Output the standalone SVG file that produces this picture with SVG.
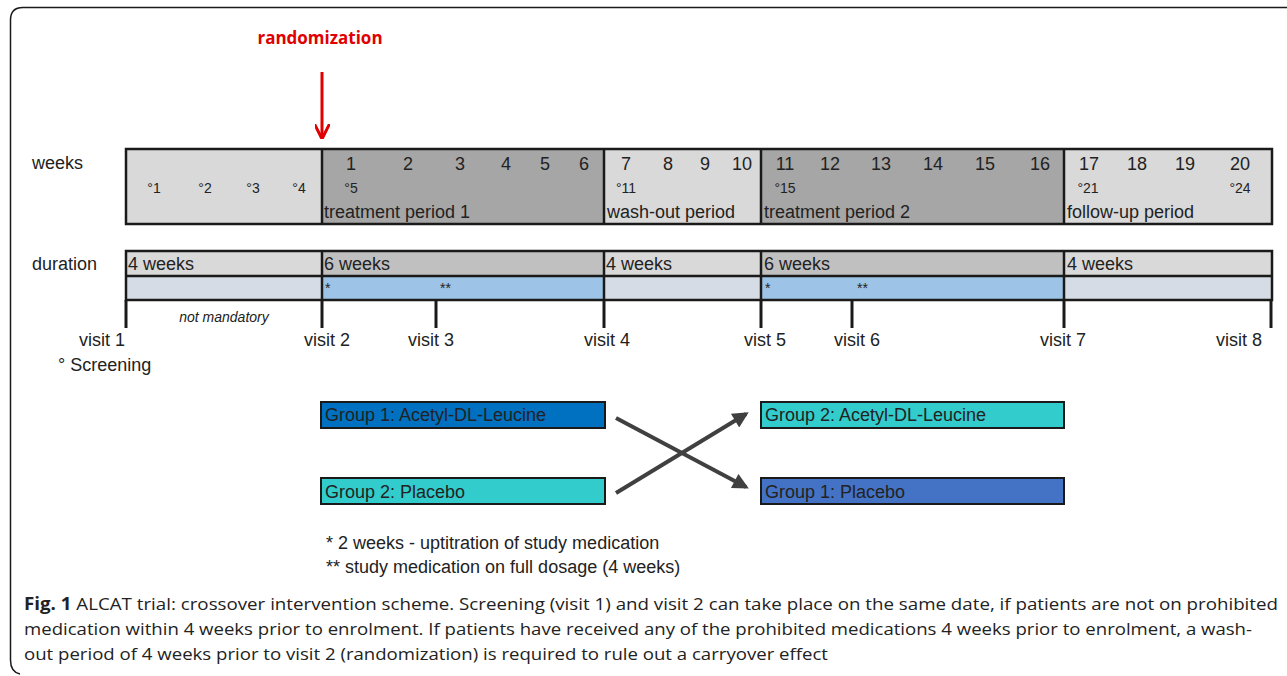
<svg xmlns="http://www.w3.org/2000/svg" width="1287" height="676" viewBox="0 0 1287 676">
<style>
text{font-family:"Liberation Sans",Arial,sans-serif;fill:#222}
.lbl{font-size:18px}
.deg{font-size:14px}
.ast{font-size:14px}
.cap{font-family:"Open Sans","Liberation Sans",sans-serif;font-size:17px;fill:#222}
.box{stroke:#1a1a1a;stroke-width:2}
.bar{stroke:#1a1a1a;stroke-width:2.5}
.tick{stroke:#1a1a1a;stroke-width:3}
.xarr{stroke:#404040;stroke-width:4;fill:none}
</style>
<defs>
<marker id="ah" viewBox="0 0 10 10" refX="8" refY="5" markerWidth="4.5" markerHeight="4" orient="auto" markerUnits="strokeWidth">
<path d="M0,0 L10,5 L0,10 z" fill="#404040"/>
</marker>
<marker id="rah" viewBox="0 0 10 10" refX="8" refY="5" markerWidth="5" markerHeight="5" orient="auto" markerUnits="strokeWidth">
<path d="M0,0 L10,5 L0,10" fill="none" stroke="#e00000" stroke-width="2"/>
</marker>
</defs>
<rect width="1287" height="676" fill="#fff"/>
<path d="M1287,7.5 H23 Q10.5,7.5 10.5,20 V660 Q10.5,672 20,674" fill="none" stroke="#1a1a1a" stroke-width="1.5"/>

<g id="randomization">
<text x="320" y="44" text-anchor="middle" style="font-family:'Open Sans','Liberation Sans',sans-serif;font-weight:bold;font-size:17px;fill:#e00000">randomization</text>
<line x1="322" y1="72" x2="322" y2="136" stroke="#e00000" stroke-width="3" marker-end="url(#rah)"/>
</g>

<g id="weeks-bar">
<text class="lbl" x="32" y="169">weeks</text>
<rect x="126" y="149" width="196" height="75" fill="#d9d9d9"/>
<rect x="322" y="149" width="282" height="75" fill="#a6a6a6"/>
<rect x="604" y="149" width="157" height="75" fill="#d9d9d9"/>
<rect x="761" y="149" width="303" height="75" fill="#a6a6a6"/>
<rect x="1064" y="149" width="208" height="75" fill="#d9d9d9"/>
<rect x="126" y="149" width="1146" height="75" fill="none" class="bar"/>
<line class="bar" x1="322" y1="149" x2="322" y2="224"/>
<line class="bar" x1="604" y1="149" x2="604" y2="224"/>
<line class="bar" x1="761" y1="149" x2="761" y2="224"/>
<line class="bar" x1="1064" y1="149" x2="1064" y2="224"/>
<g text-anchor="middle">
<text class="lbl" x="351" y="170">1</text>
<text class="lbl" x="408" y="170">2</text>
<text class="lbl" x="460" y="170">3</text>
<text class="lbl" x="506" y="170">4</text>
<text class="lbl" x="545" y="170">5</text>
<text class="lbl" x="584" y="170">6</text>
<text class="lbl" x="626" y="170">7</text>
<text class="lbl" x="668" y="170">8</text>
<text class="lbl" x="705" y="170">9</text>
<text class="lbl" x="742" y="170">10</text>
<text class="lbl" x="785" y="170">11</text>
<text class="lbl" x="830" y="170">12</text>
<text class="lbl" x="881" y="170">13</text>
<text class="lbl" x="933" y="170">14</text>
<text class="lbl" x="985" y="170">15</text>
<text class="lbl" x="1040" y="170">16</text>
<text class="lbl" x="1089" y="170">17</text>
<text class="lbl" x="1137" y="170">18</text>
<text class="lbl" x="1185" y="170">19</text>
<text class="lbl" x="1240" y="170">20</text>
</g>
<g text-anchor="middle">
<text class="deg" x="154" y="193">°1</text>
<text class="deg" x="205" y="193">°2</text>
<text class="deg" x="253" y="193">°3</text>
<text class="deg" x="299" y="193">°4</text>
<text class="deg" x="351" y="193">°5</text>
<text class="deg" x="626" y="193">°11</text>
<text class="deg" x="785" y="193">°15</text>
<text class="deg" x="1088" y="193">°21</text>
<text class="deg" x="1240" y="193">°24</text>
</g>
<text class="lbl" x="324" y="218">treatment period 1</text>
<text class="lbl" x="607" y="218">wash-out period</text>
<text class="lbl" x="764" y="218">treatment period 2</text>
<text class="lbl" x="1067" y="218">follow-up period</text>
</g>

<g id="duration-bar">
<text class="lbl" x="32" y="270">duration</text>
<rect x="126" y="251" width="196" height="25" fill="#d9d9d9"/>
<rect x="322" y="251" width="282" height="25" fill="#c0c0c0"/>
<rect x="604" y="251" width="157" height="25" fill="#d9d9d9"/>
<rect x="761" y="251" width="303" height="25" fill="#c0c0c0"/>
<rect x="1064" y="251" width="208" height="25" fill="#d9d9d9"/>
<rect x="126" y="276" width="196" height="24" fill="#d6dce5"/>
<rect x="322" y="276" width="282" height="24" fill="#9dc3e6"/>
<rect x="604" y="276" width="157" height="24" fill="#d6dce5"/>
<rect x="761" y="276" width="303" height="24" fill="#9dc3e6"/>
<rect x="1064" y="276" width="208" height="24" fill="#d6dce5"/>
<rect x="126" y="251" width="1146" height="49" fill="none" class="bar"/>
<line class="bar" x1="126" y1="276" x2="1272" y2="276"/>
<line class="bar" x1="322" y1="251" x2="322" y2="300"/>
<line class="bar" x1="604" y1="251" x2="604" y2="300"/>
<line class="bar" x1="761" y1="251" x2="761" y2="300"/>
<line class="bar" x1="1064" y1="251" x2="1064" y2="300"/>
<text class="lbl" x="128" y="270">4 weeks</text>
<text class="lbl" x="324" y="270">6 weeks</text>
<text class="lbl" x="606" y="270">4 weeks</text>
<text class="lbl" x="764" y="270">6 weeks</text>
<text class="lbl" x="1067" y="270">4 weeks</text>
<text class="ast" x="325" y="293">*</text>
<text class="ast" x="440" y="293">**</text>
<text class="ast" x="765" y="293">*</text>
<text class="ast" x="857" y="293">**</text>
</g>

<g id="visits">
<line class="tick" x1="126" y1="300" x2="126" y2="328"/>
<line class="tick" x1="322" y1="300" x2="322" y2="328"/>
<line class="tick" x1="436" y1="300" x2="436" y2="328"/>
<line class="tick" x1="604" y1="300" x2="604" y2="328"/>
<line class="tick" x1="761" y1="300" x2="761" y2="328"/>
<line class="tick" x1="852" y1="300" x2="852" y2="328"/>
<line class="tick" x1="1064" y1="300" x2="1064" y2="328"/>
<line class="tick" x1="1271" y1="300" x2="1271" y2="328"/>
<text x="224" y="322" text-anchor="middle" style="font-size:14px;font-style:italic">not mandatory</text>
<text class="lbl" x="125" y="346" text-anchor="end">visit 1</text>
<text class="lbl" x="327" y="346" text-anchor="middle">visit 2</text>
<text class="lbl" x="431" y="346" text-anchor="middle">visit 3</text>
<text class="lbl" x="607" y="346" text-anchor="middle">visit 4</text>
<text class="lbl" x="765" y="346" text-anchor="middle">vist 5</text>
<text class="lbl" x="857" y="346" text-anchor="middle">visit 6</text>
<text class="lbl" x="1063" y="346" text-anchor="middle">visit 7</text>
<text class="lbl" x="1262" y="346" text-anchor="end">visit 8</text>
<text class="lbl" x="58" y="371">° Screening</text>
</g>

<g id="group1-acetyl">
<rect class="box" x="321" y="402" width="284" height="26" fill="#0070c0"/>
<text class="lbl" x="325" y="421">Group 1: Acetyl-DL-Leucine</text>
</g>
<g id="group2-placebo">
<rect class="box" x="321" y="478" width="284" height="26" fill="#33cccc"/>
<text class="lbl" x="325" y="498">Group 2: Placebo</text>
</g>
<g id="group2-acetyl">
<rect class="box" x="761" y="402" width="303" height="26" fill="#33cccc"/>
<text class="lbl" x="765" y="421">Group 2: Acetyl-DL-Leucine</text>
</g>
<g id="group1-placebo">
<rect class="box" x="761" y="478" width="303" height="26" fill="#4472c4"/>
<text class="lbl" x="765" y="498">Group 1: Placebo</text>
</g>

<g id="connectors">
<line class="xarr" x1="616" y1="418" x2="746" y2="487" marker-end="url(#ah)"/>
<line class="xarr" x1="616" y1="493" x2="746" y2="414" marker-end="url(#ah)"/>
</g>

<g id="footnotes">
<text class="lbl" x="326" y="549">* 2 weeks - uptitration of study medication</text>
<text class="lbl" x="326" y="573">** study medication on full dosage (4 weeks)</text>
</g>

<g id="caption">
<text class="cap" x="24" y="610" textLength="1254" lengthAdjust="spacingAndGlyphs"><tspan font-weight="bold">Fig. 1</tspan> ALCAT trial: crossover intervention scheme. Screening (visit 1) and visit 2 can take place on the same date, if patients are not on prohibited</text>
<text class="cap" x="24" y="635" textLength="1228" lengthAdjust="spacingAndGlyphs">medication within 4 weeks prior to enrolment. If patients have received any of the prohibited medications 4 weeks prior to enrolment, a wash-</text>
<text class="cap" x="24" y="660" textLength="804" lengthAdjust="spacingAndGlyphs">out period of 4 weeks prior to visit 2 (randomization) is required to rule out a carryover effect</text>
</g>
</svg>
